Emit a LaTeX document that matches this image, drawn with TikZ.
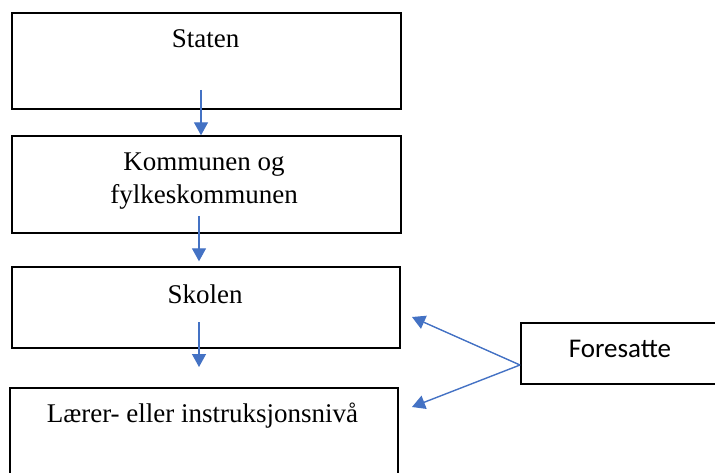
\documentclass[tikz,border=0pt]{standalone}
\usepackage{fontspec}
\setmainfont{Liberation Serif}
\newfontfamily\calibri{Carlito}
\usetikzlibrary{arrows.meta}
\definecolor{arrowblue}{RGB}{68,114,196}
\begin{document}
\begin{tikzpicture}[x=1pt,y=-1pt,
    box/.style={draw,line width=1.4pt,inner sep=0pt},
    txt/.style={anchor=base,inner sep=0pt,align=center,font=\fontsize{27}{33}\selectfont},
    flow/.style={draw=arrowblue,line width=1.4pt,-{Triangle[width=14pt,length=13pt]}}]
  \clip (0,0) rectangle (715,473);
  % boxes
  \node[box,minimum width=389pt,minimum height=96pt] (S) at (206.5,61){};
  \node[box,minimum width=389pt,minimum height=97pt] (K) at (206.5,184.5){};
  \node[box,minimum width=388pt,minimum height=81pt] (Sk) at (206,307.5){};
  \node[box,minimum width=388pt,minimum height=102pt] (L) at (204,439){};
  \node[box,minimum width=209pt,minimum height=61pt] (F) at (625.5,353.5){};

  \node[txt] (tS) at (205.5,48){Staten};
  \node[txt] (tK) at (204,204){Kommunen og\\fylkeskommunen};
  \node[txt] (tSk) at (205,303){Skolen};
  \node[txt] (tL) at (202.5,422){Lærer- eller instruksjonsnivå};
  \node[txt,font=\calibri\fontsize{27}{33}\selectfont] (tF) at (620,357){Foresatte};

  % arrows
  \coordinate (a1) at (201,90);
  \coordinate (a2) at (199,216);
  \coordinate (a3) at (199,322);
  \coordinate (b3) at (199,367);
  \coordinate (f) at (520,365);
  \coordinate (fs) at (412,317);
  \coordinate (fl) at (412,407);
  \draw[flow] (a1) -- (a1 |- K.north);
  \draw[flow,shorten >=5pt] (a2) -- (a2 |- Sk.north);
  \draw[flow] (a3) -- (b3);
  \draw[flow] (f) -- (fs);
  \draw[flow] (f) -- (fl);
\end{tikzpicture}
\end{document}
